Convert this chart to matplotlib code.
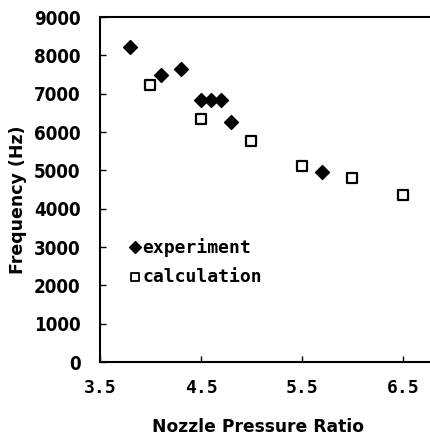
import matplotlib.pyplot as plt

# experiment (filled diamonds)
exp_npr = [3.8, 4.1, 4.3, 4.5, 4.6, 4.7, 4.8, 5.7]
exp_freq = [8210, 7480, 7650, 6830, 6830, 6830, 6260, 4965]

# calculation (open squares)
calc_npr = [4.0, 4.5, 5.0, 5.5, 6.0, 6.5]
calc_freq = [7240, 6330, 5765, 5113, 4810, 4357]

xticks = [3.5, 4.5, 5.5, 6.5]
xtick_labels = ['3.5', '4.5', '5.5', '6.5']
yticks = list(range(0, 9001, 1000))

fig = plt.figure(figsize=(4.31, 4.38), dpi=100)
ax = fig.add_axes([0.232, 0.1735, 0.768, 0.7875])

ax.scatter(exp_npr, exp_freq, marker='D', s=50, color='black', zorder=3)
ax.scatter(calc_npr, calc_freq, marker='s', s=62, facecolor='white', edgecolor='black',
           linewidth=1.6, zorder=3)

ax.set_xlim(3.5, 6.78)
ax.set_ylim(0, 9000)
ax.set_xticks(xticks)
ax.set_xticklabels(xtick_labels, family='DejaVu Sans Mono', fontsize=13, fontweight='bold')
ax.set_yticks(yticks)
ax.set_yticklabels([str(v) for v in yticks], family='DejaVu Sans', fontstretch='condensed',
                   fontsize=13.5, fontweight='bold')

ax.tick_params(direction='in', length=4, width=1)
ax.tick_params(axis='y', pad=14)
ax.tick_params(axis='x', pad=12)
ax.spines['right'].set_visible(False)
for s in ['left', 'bottom', 'top']:
    ax.spines[s].set_linewidth(1.5)

ax.set_xlabel('Nozzle Pressure Ratio', fontsize=12.3, fontweight='bold')
ax.xaxis.set_label_coords(0.478, -0.162)
ax.set_ylabel('Frequency (Hz)', fontsize=12.5, fontweight='bold')
ax.yaxis.set_label_coords(-0.22, 0.47)

# legend drawn by hand as in the original figure
ax.scatter([3.85], [3000], marker='D', s=36, color='black', zorder=3)
ax.scatter([3.85], [2220], marker='s', s=40, facecolor='white', edgecolor='black',
           linewidth=1.3, zorder=3)
ax.text(3.92, 3000, 'experiment', family='DejaVu Sans Mono', fontsize=13,
        fontweight='bold', va='center')
ax.text(3.92, 2220, 'calculation', family='DejaVu Sans Mono', fontsize=13,
        fontweight='bold', va='center')

fig.savefig('out.png', dpi=100)
